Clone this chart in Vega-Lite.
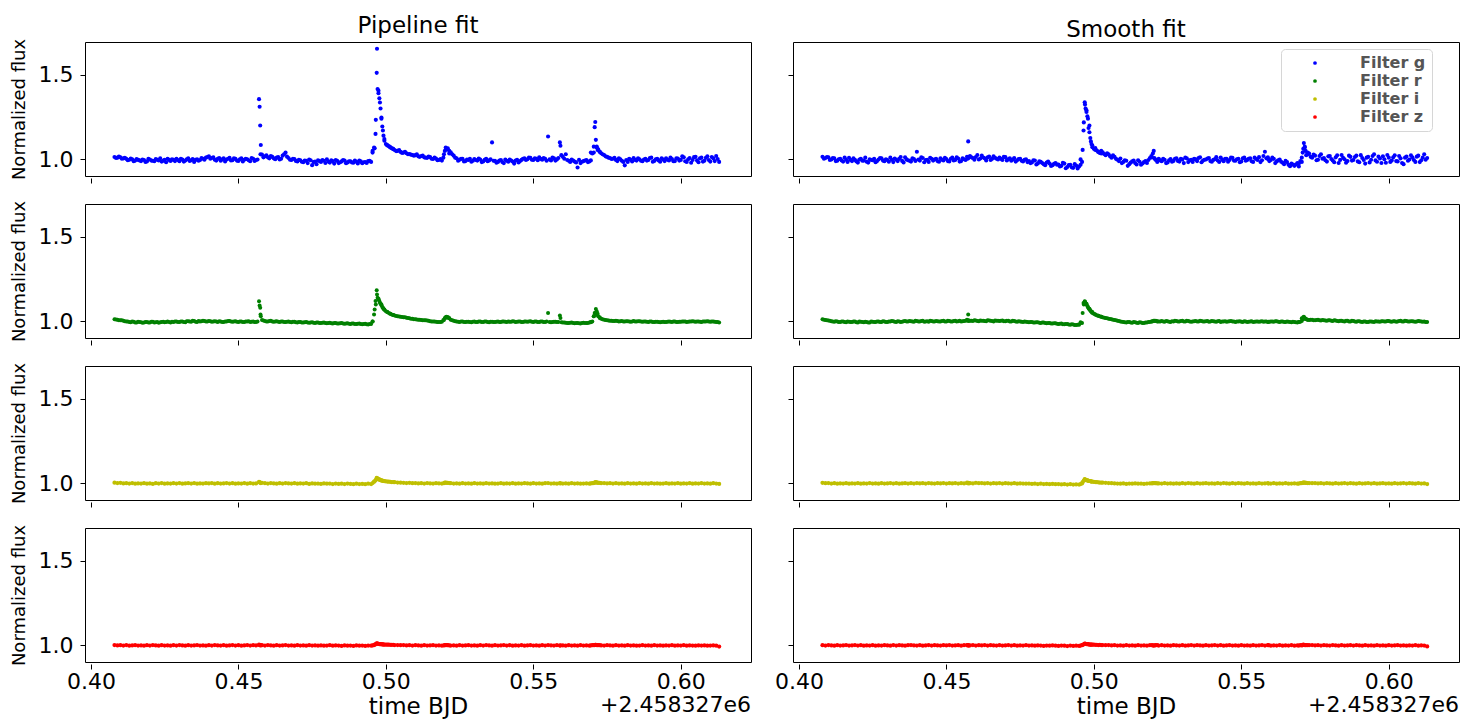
{
"$schema": "https://vega.github.io/schema/vega-lite/v6.json",
"padding": {"left": 9, "top": 14, "right": 3, "bottom": 2},
"config": {
  "view": {"stroke": "black", "strokeWidth": 1},
  "font": "DejaVu Sans",
  "axis": {"domain": false, "grid": false, "tickColor": "black", "tickSize": 5, "tickWidth": 1, "labelFont": "DejaVu Sans", "labelFontSize": 22, "labelColor": "black", "labelFlush": false, "titleFont": "DejaVu Sans", "titleFontWeight": "normal", "titleColor": "black"},
  "title": {"font": "DejaVu Sans", "fontSize": 23, "fontWeight": "normal", "color": "black"}
},
"datasets": {"lc": [
{"t":[0.408,0.409,0.410,0.411,0.412,0.413,0.414,0.415,0.416,0.417,0.418,0.419,0.420,0.421,0.422,0.423,0.424,0.425,0.426,0.427,0.428,0.429,0.430,0.431,0.432,0.433,0.434,0.435,0.436,0.437,0.438,0.439,0.440,0.441,0.442,0.443,0.444,0.445,0.446,0.447,0.448,0.449,0.450,0.451,0.452,0.453,0.454,0.455,0.456,0.457,0.458,0.459,0.460,0.461,0.462,0.463,0.464,0.465,0.466,0.467,0.468,0.469,0.470,0.471,0.472,0.473,0.474,0.475,0.476,0.477,0.478,0.479,0.480,0.481,0.482,0.483,0.484,0.485,0.486,0.487,0.488,0.489,0.490,0.491,0.492,0.493,0.494,0.495,0.496,0.497,0.498,0.499,0.500,0.501,0.502,0.503,0.504,0.505,0.506,0.507,0.508,0.509,0.510,0.511,0.512,0.513,0.514,0.515,0.516,0.517,0.518,0.519,0.520,0.521,0.522,0.523,0.524,0.525,0.526,0.527,0.528,0.529,0.530,0.531,0.532,0.533,0.534,0.535,0.536,0.537,0.538,0.539,0.540,0.541,0.542,0.543,0.544,0.545,0.546,0.547,0.548,0.549,0.550,0.551,0.552,0.553,0.554,0.555,0.556,0.557,0.558,0.559,0.560,0.561,0.562,0.563,0.564,0.565,0.566,0.567,0.568,0.569,0.570,0.571,0.572,0.573,0.574,0.575,0.576,0.577,0.578,0.579,0.580,0.581,0.582,0.583,0.584,0.585,0.586,0.587,0.588,0.589,0.590,0.591,0.592,0.593,0.594,0.595,0.596,0.597,0.598,0.599,0.600,0.601,0.602,0.603,0.604,0.605,0.606,0.607,0.608,0.609,0.610,0.611,0.612,0.613],
"gP":[1.014,1.010,1.012,1.006,1.003,0.998,1.001,0.993,0.997,0.990,0.996,0.988,0.999,0.992,1.002,0.994,0.987,0.998,1.004,0.991,0.997,1.003,0.989,0.999,0.993,1.006,0.995,0.985,1.001,0.996,1.004,1.010,1.018,1.008,0.998,1.003,0.992,1.006,0.999,1.009,0.995,1.003,0.991,1.007,0.998,1.001,0.989,1.004,0.996,1.355,1.028,1.018,1.012,1.020,1.006,1.010,0.999,1.022,1.040,1.008,0.996,1.002,0.988,0.995,0.983,0.992,0.999,0.966,0.987,0.994,0.985,0.992,1.001,0.981,0.990,0.996,0.978,0.988,0.993,0.982,0.989,0.980,0.986,0.993,0.977,0.984,0.990,0.985,1.070,1.652,1.335,1.170,1.090,1.078,1.066,1.055,1.050,1.044,1.040,1.036,1.032,1.026,1.025,1.018,1.020,1.012,1.009,1.013,1.002,1.005,0.996,0.993,1.050,1.065,1.042,1.022,1.006,0.998,1.004,0.990,0.997,0.986,1.002,0.993,0.999,0.988,1.003,0.994,1.100,0.991,0.985,0.996,0.978,0.992,0.999,0.987,0.993,0.982,0.997,1.006,1.001,1.009,0.996,1.004,1.012,0.998,1.003,1.135,0.994,1.006,1.000,1.100,1.015,1.030,0.992,0.999,0.987,0.952,0.978,0.990,0.996,0.988,1.035,1.220,1.060,1.036,1.026,1.015,1.008,1.004,0.997,1.006,0.992,0.965,0.985,0.998,1.008,0.993,1.001,0.989,1.004,0.996,1.010,0.991,1.003,0.986,0.999,1.007,0.994,1.002,0.990,1.005,0.997,1.012,0.985,1.008,0.996,1.015,0.983,1.010,0.992,1.018,0.987,1.006,1.020,0.985],
"gS":[1.015,1.008,1.012,0.999,1.006,0.992,1.003,0.987,0.998,1.009,0.990,0.997,0.981,1.004,0.993,0.986,1.001,0.995,0.983,0.999,1.006,0.989,0.996,1.010,0.984,0.998,1.003,0.991,1.012,0.995,0.987,1.002,1.045,0.993,1.008,0.996,0.985,1.004,0.999,0.990,1.007,0.994,1.002,0.988,1.011,0.997,1.005,0.990,1.001,1.015,1.020,1.008,1.014,0.999,1.022,1.006,1.012,0.996,1.018,1.004,1.010,0.997,1.013,1.001,0.992,1.008,0.995,1.004,0.988,1.000,0.990,0.982,0.993,0.976,0.985,0.972,0.981,0.975,0.966,0.979,0.970,0.962,0.975,0.955,0.968,0.950,0.963,0.958,0.985,1.323,1.240,1.106,1.062,1.052,1.038,1.041,1.024,1.030,1.010,1.015,0.998,1.005,0.985,0.992,0.972,0.988,0.978,0.995,0.968,0.984,0.979,1.008,1.035,0.996,1.004,0.989,0.998,0.982,1.002,0.991,1.006,0.987,0.999,1.010,0.984,0.997,1.004,0.990,1.012,0.993,0.999,1.008,0.986,1.001,0.994,1.011,0.989,1.003,0.996,1.009,0.992,1.004,0.988,1.010,0.997,1.006,0.985,1.002,1.013,0.995,1.045,1.012,0.996,1.003,0.988,0.999,0.980,0.991,0.968,0.975,0.962,0.978,0.990,1.062,1.025,1.035,1.010,1.022,0.998,1.030,1.008,0.987,1.020,0.994,1.012,0.979,1.026,1.001,0.990,1.015,0.996,1.022,0.983,1.008,0.975,1.015,0.998,1.030,0.986,1.005,1.018,0.980,1.010,0.993,1.024,0.988,1.006,0.972,1.016,0.999,1.012,0.985,1.022,0.995,1.030,1.008],
"rP":[1.013,1.009,1.006,1.004,1.000,0.997,0.999,0.994,0.998,0.995,0.993,0.997,0.994,0.998,0.995,0.992,0.997,0.995,0.999,0.994,0.997,1.000,0.996,0.999,0.995,1.001,0.998,1.002,0.997,1.000,1.003,0.999,1.002,0.998,1.001,0.997,1.000,0.996,0.999,1.002,0.998,1.001,0.997,0.999,0.996,1.000,0.997,0.999,0.996,1.119,1.008,1.002,0.999,1.003,0.998,1.001,0.997,1.000,0.996,0.999,0.995,0.998,0.994,0.997,0.993,0.996,0.992,0.995,0.991,0.994,0.990,0.993,0.989,0.992,0.988,0.991,0.987,0.990,0.986,0.989,0.985,0.988,0.984,0.987,0.983,0.986,0.982,0.985,1.040,1.158,1.110,1.080,1.060,1.050,1.040,1.035,1.030,1.028,1.025,1.022,1.018,1.015,1.012,1.010,1.008,1.006,1.005,1.001,1.000,0.998,0.996,0.998,1.020,1.026,1.010,1.003,0.999,0.997,1.000,0.996,0.998,0.995,0.999,0.996,1.000,0.997,0.999,0.995,0.998,0.996,0.999,0.996,1.000,0.997,0.998,1.001,0.997,0.999,0.996,1.000,0.998,1.001,0.997,0.999,0.996,1.000,0.997,1.050,0.995,0.998,0.996,1.034,0.994,0.992,0.990,0.993,0.989,0.991,0.988,0.992,0.990,0.993,1.000,1.050,1.030,1.015,1.010,1.006,1.004,1.002,1.003,1.000,1.002,0.999,1.001,0.998,1.002,0.999,1.001,0.998,1.000,0.997,0.999,0.996,0.998,0.995,0.998,0.996,0.999,0.997,0.999,0.996,0.998,1.000,0.997,0.999,1.001,0.998,1.000,0.997,0.999,1.001,0.998,1.000,0.997,0.994],
"rS":[1.012,1.008,1.005,1.001,0.998,1.000,0.996,0.999,0.995,0.998,0.996,0.999,0.994,0.998,0.995,0.997,0.993,0.998,0.996,0.999,0.997,1.000,0.996,0.999,1.001,0.997,1.000,0.998,1.002,0.999,1.001,0.998,1.002,0.999,1.003,1.000,0.998,1.002,0.999,1.001,1.000,1.003,0.999,1.002,1.000,1.004,1.001,0.999,1.002,1.010,1.004,1.002,1.005,1.001,1.004,1.002,1.006,1.003,1.000,1.004,1.002,1.005,1.001,1.003,0.999,1.002,0.998,1.000,0.996,0.998,0.995,0.997,0.993,0.995,0.991,0.993,0.989,0.991,0.987,0.989,0.985,0.987,0.983,0.984,0.980,0.982,0.978,0.980,0.990,1.115,1.085,1.060,1.045,1.036,1.030,1.025,1.020,1.016,1.012,1.008,1.004,1.000,0.997,0.994,0.996,0.992,0.995,0.991,0.994,0.990,0.993,0.997,1.001,1.004,0.999,1.002,0.998,1.001,0.997,1.000,1.002,0.999,1.003,1.000,1.002,0.998,1.001,0.999,1.003,1.000,1.001,0.998,1.002,0.999,1.001,0.997,1.000,0.998,1.001,0.999,0.997,1.000,0.998,1.001,0.997,0.999,0.996,1.000,0.998,1.001,0.999,0.997,1.000,0.998,1.001,0.997,0.999,0.996,0.998,0.995,0.997,0.994,0.998,1.025,1.012,1.008,1.010,1.006,1.009,1.005,1.007,1.004,1.006,1.002,1.005,1.001,1.004,1.000,1.003,0.999,1.002,0.998,1.001,0.997,1.000,0.996,0.999,0.997,1.000,0.998,1.001,0.999,1.002,0.998,1.001,0.999,1.003,1.000,1.002,0.999,1.001,0.998,1.002,0.999,1.000,0.997],
"iP":[1.004,1.002,1.003,1.000,1.001,0.999,1.002,0.998,1.000,0.999,1.001,0.998,1.000,0.997,1.001,0.999,1.002,0.998,1.000,0.999,1.001,0.999,1.002,0.998,1.000,1.001,0.999,1.002,0.998,1.000,0.999,1.001,1.000,1.002,0.998,1.001,0.999,1.000,1.002,0.999,1.001,0.998,1.000,0.999,1.002,0.998,1.001,0.999,1.000,1.009,1.003,1.001,0.999,1.002,1.000,0.998,1.001,0.999,1.002,1.000,0.999,1.001,0.998,1.000,0.999,1.001,0.997,1.000,0.998,0.999,0.997,1.000,0.998,0.999,0.996,0.999,0.997,0.998,0.996,0.999,0.997,0.995,0.998,0.996,0.997,0.995,0.998,0.996,1.010,1.030,1.020,1.015,1.012,1.010,1.008,1.007,1.005,1.004,1.003,1.002,1.003,1.001,1.002,1.000,1.001,0.999,1.002,1.000,0.999,1.001,1.000,0.999,1.004,1.003,1.001,0.999,1.000,0.998,1.001,0.999,1.000,0.998,1.001,0.999,1.000,0.998,1.001,0.999,1.000,0.998,0.999,1.001,0.998,1.000,0.999,1.001,0.998,1.000,0.999,1.001,1.000,0.998,1.001,0.999,1.000,0.998,1.001,1.002,0.999,1.000,0.998,1.001,0.999,1.000,0.998,1.001,0.999,1.000,0.998,0.999,1.000,0.998,1.001,1.006,1.003,1.001,1.002,1.000,1.001,0.999,1.001,0.999,1.000,0.998,1.001,0.999,1.000,0.998,1.001,0.999,1.000,0.998,1.001,0.999,1.000,0.998,0.999,1.001,0.998,1.000,0.999,1.001,0.998,1.000,0.999,1.001,0.998,1.000,0.999,1.001,0.999,1.000,0.998,1.001,0.999,0.997],
"iS":[1.003,1.001,1.002,0.999,1.001,0.998,1.000,0.999,1.001,0.998,1.000,0.999,1.001,0.998,1.000,0.999,1.002,0.999,1.000,0.998,1.001,0.999,1.000,1.002,0.999,1.001,0.998,1.000,1.001,0.999,1.001,0.999,1.002,1.000,1.001,0.999,1.002,1.000,0.999,1.001,1.000,1.002,0.999,1.001,1.000,1.002,0.999,1.001,1.000,1.004,1.002,1.000,1.003,1.001,1.002,1.000,1.002,0.999,1.001,1.000,1.002,0.999,1.001,1.000,0.999,1.001,0.998,1.000,0.999,0.998,0.999,0.997,0.998,0.996,0.998,0.996,0.997,0.995,0.997,0.995,0.996,0.994,0.995,0.993,0.995,0.993,0.994,0.993,1.000,1.022,1.016,1.012,1.009,1.007,1.005,1.004,1.003,1.002,1.001,1.000,0.999,0.998,1.000,0.997,0.999,0.998,1.000,0.998,0.999,0.997,0.999,1.000,1.002,1.001,1.000,0.999,1.001,0.999,1.000,0.998,1.000,0.998,1.001,0.999,1.002,1.000,0.998,1.001,0.999,1.000,1.001,0.999,1.000,0.998,1.001,0.999,1.002,1.000,0.998,1.001,0.999,1.001,1.000,0.998,1.001,0.999,1.000,0.998,1.001,0.999,1.000,1.002,0.999,1.001,0.998,1.000,0.999,1.001,0.998,0.999,1.000,0.998,1.001,1.004,1.003,1.002,1.001,1.002,1.000,1.001,0.999,1.001,1.000,0.998,1.001,0.999,1.000,1.002,0.999,1.001,1.000,0.998,1.001,0.999,1.000,1.002,0.999,1.001,0.998,1.000,1.001,0.999,1.000,0.998,1.001,0.999,1.000,1.002,0.999,1.001,1.000,0.998,1.001,0.999,1.000,0.996],
"zP":[1.002,1.000,1.001,0.999,1.002,0.998,1.000,1.001,0.999,1.000,0.998,1.001,0.999,1.002,1.000,0.998,1.001,0.999,1.000,0.998,1.001,0.999,1.002,1.000,0.998,1.001,0.999,1.000,1.002,0.999,1.000,0.998,1.001,0.999,1.002,1.000,0.999,1.001,0.998,1.000,1.002,0.999,1.001,0.998,1.000,1.002,0.999,1.001,1.000,1.004,1.001,0.999,1.002,1.000,0.998,1.001,0.999,1.000,1.002,0.999,1.000,0.998,1.001,0.999,1.000,0.998,1.001,0.999,1.000,0.998,1.000,0.998,0.999,1.001,0.998,1.000,0.999,0.997,1.000,0.998,0.999,0.997,1.000,0.998,0.999,0.997,0.999,0.998,1.002,1.011,1.008,1.006,1.004,1.004,1.003,1.002,1.002,1.001,1.002,1.000,1.001,0.999,1.001,1.000,0.998,1.001,0.999,1.000,1.001,0.999,1.000,0.998,1.002,1.001,0.999,1.000,0.998,1.001,0.999,1.000,1.001,0.999,1.000,0.998,1.001,0.999,1.002,1.000,0.998,1.001,0.999,1.000,1.002,0.999,1.001,0.998,1.000,0.999,1.001,0.998,1.000,1.001,0.999,1.000,0.998,1.001,0.999,1.002,1.000,0.999,1.001,0.999,1.000,0.998,1.001,0.999,1.000,0.998,1.001,0.999,1.000,0.998,1.001,1.003,1.001,1.000,0.999,1.001,1.000,0.998,1.001,0.999,1.000,0.998,1.001,0.999,1.000,0.998,0.999,1.001,0.999,1.000,0.998,1.001,0.999,1.000,0.998,1.000,0.999,1.001,0.998,1.000,0.999,1.001,0.998,1.000,0.999,0.998,1.000,0.999,1.000,0.998,0.999,1.000,0.998,0.993],
"zS":[1.001,0.999,1.002,1.000,0.998,1.001,0.999,1.000,1.002,0.999,1.000,1.002,0.999,1.001,0.998,1.000,0.999,1.001,0.998,1.000,0.999,1.001,1.000,0.998,1.002,0.999,1.001,1.000,0.998,1.001,1.002,1.000,0.999,1.001,0.998,1.000,1.002,0.999,1.001,1.000,0.999,1.001,1.000,1.002,0.999,1.000,1.001,0.998,1.001,1.002,1.000,1.002,0.999,1.001,1.000,1.002,0.999,1.001,1.000,0.999,1.001,0.999,1.000,1.002,0.999,1.001,0.998,1.000,0.999,1.001,0.999,1.000,0.998,1.000,0.999,0.997,0.999,0.998,1.000,0.998,0.997,0.999,0.998,0.996,0.999,0.997,0.998,0.997,1.001,1.009,1.007,1.005,1.004,1.003,1.003,1.002,1.001,1.002,1.000,1.001,0.999,1.000,0.998,1.001,0.999,1.000,0.998,1.001,0.999,1.000,0.998,1.001,1.000,1.001,0.999,1.001,0.999,1.000,0.998,1.001,1.000,0.999,1.001,0.998,1.000,1.002,0.999,1.001,1.000,0.998,1.001,0.999,1.000,1.002,0.999,1.001,0.998,1.000,1.001,0.999,1.000,0.998,1.001,0.999,1.000,0.998,1.001,0.999,1.000,1.002,0.999,1.001,0.998,1.000,0.999,1.001,0.998,1.000,0.999,1.001,0.998,1.000,1.001,1.004,1.002,1.001,1.002,1.000,1.001,0.999,1.001,1.000,0.999,1.002,1.000,0.998,1.001,0.999,1.000,1.001,0.999,1.001,1.000,0.998,1.001,0.999,1.000,0.998,1.001,0.999,1.000,0.998,1.001,0.999,1.000,1.001,0.999,1.000,0.998,1.000,0.999,1.001,0.998,1.000,0.999,0.994]},
{"t":[0.4085,0.4095,0.4105,0.4115,0.4125,0.4135,0.4145,0.4155,0.4165,0.4175,0.4185,0.4195,0.4205,0.4215,0.4225,0.4235,0.4245,0.4255,0.4265,0.4275,0.4285,0.4295,0.4305,0.4315,0.4325,0.4335,0.4345,0.4355,0.4365,0.4375,0.4385,0.4395,0.4405,0.4415,0.4425,0.4435,0.4445,0.4455,0.4465,0.4475,0.4485,0.4495,0.4505,0.4515,0.4525,0.4535,0.4545,0.4555,0.4565,0.4575,0.4585,0.4595,0.4605,0.4615,0.4625,0.4635,0.4645,0.4655,0.4665,0.4675,0.4685,0.4695,0.4705,0.4715,0.4725,0.4735,0.4745,0.4755,0.4765,0.4775,0.4785,0.4795,0.4805,0.4815,0.4825,0.4835,0.4845,0.4855,0.4865,0.4875,0.4885,0.4895,0.4905,0.4915,0.4925,0.4935,0.4945,0.4955,0.4965,0.4975,0.4985,0.4995,0.5005,0.5015,0.5025,0.5035,0.5045,0.5055,0.5065,0.5075,0.5085,0.5095,0.5105,0.5115,0.5125,0.5135,0.5145,0.5155,0.5165,0.5175,0.5185,0.5195,0.5205,0.5215,0.5225,0.5235,0.5245,0.5255,0.5265,0.5275,0.5285,0.5295,0.5305,0.5315,0.5325,0.5335,0.5345,0.5355,0.5365,0.5375,0.5385,0.5395,0.5405,0.5415,0.5425,0.5435,0.5445,0.5455,0.5465,0.5475,0.5485,0.5495,0.5505,0.5515,0.5525,0.5535,0.5545,0.5555,0.5565,0.5575,0.5585,0.5595,0.5605,0.5615,0.5625,0.5635,0.5645,0.5655,0.5665,0.5675,0.5685,0.5695,0.5705,0.5715,0.5725,0.5735,0.5745,0.5755,0.5765,0.5775,0.5785,0.5795,0.5805,0.5815,0.5825,0.5835,0.5845,0.5855,0.5865,0.5875,0.5885,0.5895,0.5905,0.5915,0.5925,0.5935,0.5945,0.5955,0.5965,0.5975,0.5985,0.5995,0.6005,0.6015,0.6025,0.6035,0.6045,0.6055,0.6065,0.6075,0.6085,0.6095,0.6105,0.6115,0.6125],
"gP":[1.008,1.016,1.004,1.009,0.995,1.005,0.989,1.002,0.994,0.999,0.985,1.003,0.993,0.989,0.998,1.006,0.992,0.983,0.997,1.001,0.990,0.996,1.004,0.987,1.000,0.991,1.002,0.997,0.992,1.008,0.998,1.014,1.004,1.012,0.993,1.008,1.000,0.988,1.004,0.994,1.006,0.993,1.001,0.988,1.004,0.995,1.008,0.991,0.999,1.030,1.012,1.024,1.006,1.015,1.001,1.013,1.004,1.030,1.016,0.998,1.004,0.991,0.998,0.986,0.993,0.978,0.995,0.984,0.972,0.990,0.996,0.979,0.987,0.994,0.975,0.991,0.983,0.996,0.977,0.988,0.982,0.993,0.976,0.988,0.983,0.979,0.992,1.050,1.150,1.390,1.240,1.120,1.082,1.070,1.062,1.049,1.055,1.038,1.045,1.030,1.028,1.022,1.030,1.015,1.022,1.010,1.016,1.004,1.010,0.995,1.002,1.010,1.060,1.035,1.030,1.010,0.992,1.003,0.988,0.999,1.004,0.992,0.996,1.005,0.984,0.997,0.989,1.001,0.992,0.980,0.993,0.984,0.999,0.986,0.993,0.975,0.998,0.990,1.004,0.996,1.010,0.998,1.006,0.995,1.003,1.008,0.992,1.000,1.010,0.993,1.008,1.025,1.004,0.996,0.985,0.993,0.982,0.997,0.986,0.993,0.984,0.994,1.040,1.070,1.045,1.030,1.018,1.010,1.002,1.009,0.990,1.001,0.985,0.996,1.004,0.988,0.997,1.006,0.992,0.999,0.993,1.008,0.986,1.000,0.994,1.006,0.990,0.998,1.011,0.989,1.007,0.993,1.018,0.989,1.001,0.980,1.013,0.994,1.006,0.987,1.009,0.996,1.014,0.990,1.002],
"gS":[1.004,1.013,0.996,1.008,0.990,1.001,0.994,1.011,0.985,0.997,1.006,0.988,0.999,0.992,1.010,0.981,0.996,1.003,0.990,1.008,0.993,1.001,0.986,0.998,1.005,0.990,1.014,0.982,1.000,0.992,1.006,0.991,0.999,1.012,0.983,0.998,1.009,0.993,1.004,0.986,0.998,1.009,0.990,1.004,0.994,1.012,0.987,1.006,0.996,1.008,1.012,0.998,1.026,1.005,1.011,0.994,1.016,1.003,1.009,0.999,1.003,1.015,0.994,1.006,0.999,0.987,1.002,0.992,0.998,0.984,0.978,0.995,0.970,0.988,0.979,0.966,0.987,0.961,0.974,0.969,0.958,0.980,0.948,0.966,0.953,0.972,0.946,1.000,1.170,1.290,1.200,1.082,1.066,1.045,1.050,1.032,1.036,1.018,1.024,1.003,0.990,0.978,0.995,0.962,0.981,0.993,0.970,0.986,0.976,0.990,0.996,1.020,1.008,0.985,0.994,1.003,0.978,0.995,0.986,1.004,0.991,1.003,0.978,1.006,0.994,0.985,1.000,1.008,0.983,0.998,1.005,0.990,0.997,1.013,0.985,0.998,1.004,0.986,1.010,0.993,1.001,0.983,1.007,0.992,1.003,0.989,1.010,0.996,0.984,1.020,1.006,0.990,1.010,0.978,0.995,0.986,0.972,0.984,0.960,0.970,0.970,0.958,1.010,1.075,1.040,1.015,1.028,0.995,1.020,1.004,0.995,1.018,1.002,0.983,1.024,0.997,1.009,0.980,1.022,0.993,1.014,0.988,1.025,0.996,1.010,0.982,1.020,0.994,1.016,0.979,1.001,1.026,0.985,1.012,0.990,1.020,0.979,1.010,0.992,1.024,0.996,1.016,0.984,1.010,0.998],
"rP":[1.011,1.006,1.007,1.001,0.999,0.995,0.998,0.993,0.997,0.992,0.996,0.994,0.998,0.993,0.997,0.995,0.998,0.996,0.997,0.998,1.000,0.997,0.999,0.996,1.001,0.999,1.003,0.998,1.002,1.001,1.002,0.999,1.001,0.999,0.999,1.001,0.997,0.999,1.002,0.999,1.000,0.998,0.999,0.997,0.999,1.001,0.998,0.996,0.999,1.040,1.005,0.999,1.002,1.000,1.000,0.998,0.999,0.997,0.998,0.996,0.998,0.995,0.997,0.994,0.995,0.993,0.994,0.992,0.993,0.991,0.992,0.990,0.991,0.989,0.990,0.988,0.989,0.987,0.988,0.986,0.987,0.985,0.986,0.984,0.985,0.983,0.984,1.000,1.120,1.134,1.100,1.070,1.055,1.045,1.038,1.032,1.029,1.026,1.024,1.020,1.016,1.013,1.011,1.009,1.007,1.006,1.003,1.000,0.999,0.997,0.997,1.008,1.028,1.018,1.006,1.001,0.998,0.999,0.997,0.998,0.996,0.998,0.997,0.999,0.997,0.999,0.996,0.998,0.997,0.998,0.997,0.999,0.998,1.000,0.998,1.000,0.998,0.999,0.997,1.000,1.000,0.998,0.999,0.997,0.999,0.997,0.999,0.997,0.996,0.998,0.997,0.995,0.993,0.991,0.992,0.990,0.991,0.989,0.990,0.991,0.991,0.996,1.030,1.040,1.020,1.012,1.008,1.005,1.003,1.002,1.002,1.001,1.000,1.001,0.999,1.000,1.000,1.001,0.999,1.000,0.998,0.999,0.997,0.998,0.996,0.997,0.997,0.998,0.998,0.999,0.997,0.998,0.999,0.999,0.998,1.000,0.999,1.000,0.998,0.999,1.000,0.999,0.999,0.998,0.996],
"rS":[1.010,1.006,1.003,0.999,1.001,0.997,1.000,0.996,0.999,0.997,1.000,0.995,0.999,0.996,0.998,0.994,0.999,0.997,1.000,0.996,1.001,0.997,1.000,1.002,0.998,1.001,0.997,1.001,0.999,1.002,0.999,1.003,1.000,1.002,0.998,1.001,1.003,1.000,1.002,0.999,1.002,1.000,1.003,0.999,1.002,1.000,1.003,1.001,1.004,1.006,1.003,1.006,1.002,1.005,1.003,1.001,1.005,1.002,1.005,1.003,1.004,1.001,1.004,1.000,1.003,0.999,1.001,0.998,0.999,0.996,0.996,0.993,0.995,0.992,0.993,0.990,0.991,0.988,0.989,0.986,0.986,0.983,0.985,0.981,0.983,0.979,0.980,0.995,1.108,1.104,1.075,1.055,1.040,1.033,1.027,1.022,1.018,1.014,1.010,1.006,1.002,0.998,0.995,0.997,0.993,0.996,0.992,0.995,0.991,0.994,0.996,1.000,1.003,1.001,1.000,0.999,1.002,0.998,1.001,1.003,1.000,1.002,0.999,1.003,1.000,0.999,1.002,1.000,1.002,0.999,1.002,1.000,1.001,0.998,1.002,0.999,1.001,0.999,1.002,1.000,0.999,1.001,0.997,1.000,0.998,1.001,0.998,0.999,1.000,0.998,1.000,0.998,0.999,1.001,0.998,1.000,0.997,0.999,0.996,0.998,0.995,0.997,1.018,1.015,1.010,1.009,1.007,1.008,1.006,1.008,1.005,1.007,1.003,1.006,1.002,1.004,1.001,1.004,1.000,1.003,0.999,1.001,0.998,1.000,0.997,1.000,0.998,1.001,0.999,1.001,1.000,1.002,0.999,1.001,0.998,1.002,1.000,1.003,1.000,1.001,1.000,0.999,1.001,0.998,0.997],
"iP":[],"iS":[],"zP":[],"zS":[]},
{"t":[0.4572,0.4574,0.4576],"gP":[1.310,1.200,1.085],"gS":[1.004,1.106,1.012],"rP":[1.093,1.080,1.030],"rS":[1.003,1.040,1.002],"iP":[1.006,1.004,1.002],"iS":[1.001,1.003,1.000],"zP":[1.002,1.001,1.000],"zS":[1.000,1.002,0.999]},
{"t":[0.4955,0.4962,0.4966,0.4969,0.4972,0.4975,0.4978,0.4982,0.4985,0.4988,0.4992,0.4995,0.5005,0.5015,0.5025],
"gP":[1.040,1.065,1.233,1.510,1.415,1.405,1.360,1.300,1.247,1.194,1.140,1.110,1.085,1.072,1.060],
"gS":[0.968,1.056,1.218,1.337,1.300,1.280,1.254,1.185,1.160,1.126,1.090,1.072,1.055,1.044,1.035],
"rP":[1.000,1.070,1.100,1.184,1.139,1.129,1.120,1.105,1.095,1.085,1.075,1.068,1.055,1.045,1.037],
"rS":[0.990,1.050,1.100,1.119,1.107,1.100,1.090,1.078,1.070,1.065,1.055,1.050,1.040,1.033,1.028],
"iP":[1.002,1.012,1.020,1.033,1.028,1.025,1.023,1.019,1.017,1.016,1.014,1.013,1.011,1.009,1.008],
"iS":[0.996,1.008,1.016,1.025,1.021,1.019,1.018,1.015,1.014,1.013,1.011,1.010,1.008,1.006,1.005],
"zP":[1.000,1.004,1.007,1.012,1.010,1.009,1.008,1.007,1.006,1.006,1.005,1.005,1.004,1.003,1.003],
"zS":[0.999,1.003,1.006,1.010,1.009,1.008,1.007,1.006,1.005,1.005,1.004,1.004,1.003,1.002,1.002]},
{"t":[0.5197,0.5203,0.5207,0.5215],"gP":[1.030,1.070,1.058,1.050],"gS":[1.012,1.050,1.002,0.995],"rP":[1.008,1.024,1.022,1.018],"rS":[0.999,1.003,1.002,1.000],"iP":[1.001,1.004,1.003,1.002],"iS":[1.000,1.002,1.001,1.000],"zP":[1.000,1.002,1.001,1.000],"zS":[1.001,0.999,1.000,1.001]},
{"t":[0.5592],"gP":[1.080],"gS":[1.000],"rP":[1.020],"rS":[0.998],"iP":[1.000],"iS":[0.999],"zP":[1.000],"zS":[1.001]},
{"t":[0.5695,0.5705,0.5708,0.5712,0.5715,0.5718,0.5725],
"gP":[1.040,1.075,1.190,1.115,1.075,1.055,1.045],
"gS":[0.975,0.985,1.040,1.096,1.070,1.050,1.030],
"rP":[0.995,1.030,1.050,1.073,1.060,1.045,1.025],
"rS":[0.996,1.002,1.012,1.028,1.020,1.015,1.010],
"iP":[1.000,1.002,1.004,1.007,1.005,1.004,1.003],
"iS":[0.999,1.001,1.003,1.005,1.004,1.003,1.002],
"zP":[1.000,1.001,1.002,1.003,1.002,1.002,1.001],
"zS":[0.999,1.000,1.002,1.003,1.002,1.001,1.001]}
]},
"data": {"name": "lc"},
"transform": [{"flatten": ["t","gP","gS","rP","rS","iP","iS","zP","zS"]}],
"columns": 2,
"spacing": {"row": 15, "column": 21},
"resolve": {"scale": {"color": "independent"}, "legend": {"color": "independent"}},
"concat": [
{"width": 666, "height": 134, "title": {"text": "Pipeline fit", "anchor": "middle", "offset": 0},
 "mark": {"type": "circle", "size": 17, "opacity": 1, "color": "#0000ff"},
 "encoding": {
  "x": {"field": "t", "type": "quantitative", "scale": {"domain": [0.398, 0.6238], "nice": false, "zero": false}, "axis": {"values": [0.40,0.45,0.50,0.55,0.60], "labels": false, "title": null, "offset": 2}},
  "y": {"field": "gP", "type": "quantitative", "scale": {"domain": [0.902, 1.692], "nice": false, "zero": false}, "axis": {"values": [1.0,1.5], "format": ".1f", "labelPadding": 7, "title": "Normalized flux", "titleFontSize": 18, "titlePadding": 10}}}},
{"width": 666, "height": 134, "title": {"text": "Smooth fit", "anchor": "middle", "offset": 0},
 "mark": {"type": "circle", "size": 17, "opacity": 1},
 "encoding": {
  "x": {"field": "t", "type": "quantitative", "scale": {"domain": [0.398, 0.6238], "nice": false, "zero": false}, "axis": {"values": [0.40,0.45,0.50,0.55,0.60], "labels": false, "title": null, "offset": 2}},
  "y": {"field": "gS", "type": "quantitative", "scale": {"domain": [0.902, 1.692], "nice": false, "zero": false}, "axis": {"values": [1.0,1.5], "labels": false, "title": null}},
  "color": {"datum": "Filter g", "type": "nominal", "scale": {"domain": ["Filter g","Filter r","Filter i","Filter z"], "range": ["#0000ff","#008000","#bfbf00","#ff0000"]},
   "legend": {"title": null, "orient": "none", "legendX": 488, "legendY": 7, "symbolType": "circle", "symbolSize": 14, "symbolOpacity": 1, "symbolOffset": 20, "labelFont": "DejaVu Sans", "labelFontSize": 16, "labelFontWeight": "bold", "labelColor": "#555555", "labelOffset": 37, "padding": 6, "rowPadding": 2, "fillColor": "rgba(255,255,255,0.85)", "strokeColor": "#d6d6d6", "cornerRadius": 4}}}},
{"width": 666, "height": 134,
 "mark": {"type": "circle", "size": 16, "opacity": 1, "color": "#008000"},
 "encoding": {
  "x": {"field": "t", "type": "quantitative", "scale": {"domain": [0.398, 0.6238], "nice": false, "zero": false}, "axis": {"values": [0.40,0.45,0.50,0.55,0.60], "labels": false, "title": null, "offset": 2}},
  "y": {"field": "rP", "type": "quantitative", "scale": {"domain": [0.902, 1.692], "nice": false, "zero": false}, "axis": {"values": [1.0,1.5], "format": ".1f", "labelPadding": 7, "title": "Normalized flux", "titleFontSize": 18, "titlePadding": 10}}}},
{"width": 666, "height": 134,
 "mark": {"type": "circle", "size": 16, "opacity": 1, "color": "#008000"},
 "encoding": {
  "x": {"field": "t", "type": "quantitative", "scale": {"domain": [0.398, 0.6238], "nice": false, "zero": false}, "axis": {"values": [0.40,0.45,0.50,0.55,0.60], "labels": false, "title": null, "offset": 2}},
  "y": {"field": "rS", "type": "quantitative", "scale": {"domain": [0.902, 1.692], "nice": false, "zero": false}, "axis": {"values": [1.0,1.5], "labels": false, "title": null}}}},
{"width": 666, "height": 134,
 "mark": {"type": "circle", "size": 18, "opacity": 1, "color": "#bfbf00"},
 "encoding": {
  "x": {"field": "t", "type": "quantitative", "scale": {"domain": [0.398, 0.6238], "nice": false, "zero": false}, "axis": {"values": [0.40,0.45,0.50,0.55,0.60], "labels": false, "title": null, "offset": 2}},
  "y": {"field": "iP", "type": "quantitative", "scale": {"domain": [0.902, 1.692], "nice": false, "zero": false}, "axis": {"values": [1.0,1.5], "format": ".1f", "labelPadding": 7, "title": "Normalized flux", "titleFontSize": 18, "titlePadding": 10}}}},
{"width": 666, "height": 134,
 "mark": {"type": "circle", "size": 18, "opacity": 1, "color": "#bfbf00"},
 "encoding": {
  "x": {"field": "t", "type": "quantitative", "scale": {"domain": [0.398, 0.6238], "nice": false, "zero": false}, "axis": {"values": [0.40,0.45,0.50,0.55,0.60], "labels": false, "title": null, "offset": 2}},
  "y": {"field": "iS", "type": "quantitative", "scale": {"domain": [0.902, 1.692], "nice": false, "zero": false}, "axis": {"values": [1.0,1.5], "labels": false, "title": null}}}},
{"width": 666, "height": 134, "title": {"text": "+2.458327e6", "orient": "bottom", "anchor": "end", "fontSize": 22, "offset": -23},
 "mark": {"type": "circle", "size": 18, "opacity": 1, "color": "#ff0000"},
 "encoding": {
  "x": {"field": "t", "type": "quantitative", "scale": {"domain": [0.398, 0.6238], "nice": false, "zero": false}, "axis": {"values": [0.40,0.45,0.50,0.55,0.60], "format": ".2f", "labelPadding": 2, "title": "time BJD", "titleFontSize": 23, "titlePadding": 3, "offset": 2}},
  "y": {"field": "zP", "type": "quantitative", "scale": {"domain": [0.902, 1.692], "nice": false, "zero": false}, "axis": {"values": [1.0,1.5], "format": ".1f", "labelPadding": 7, "title": "Normalized flux", "titleFontSize": 18, "titlePadding": 10}}}},
{"width": 666, "height": 134, "title": {"text": "+2.458327e6", "orient": "bottom", "anchor": "end", "fontSize": 22, "offset": -23},
 "mark": {"type": "circle", "size": 18, "opacity": 1, "color": "#ff0000"},
 "encoding": {
  "x": {"field": "t", "type": "quantitative", "scale": {"domain": [0.398, 0.6238], "nice": false, "zero": false}, "axis": {"values": [0.40,0.45,0.50,0.55,0.60], "format": ".2f", "labelPadding": 2, "title": "time BJD", "titleFontSize": 23, "titlePadding": 3, "offset": 2}},
  "y": {"field": "zS", "type": "quantitative", "scale": {"domain": [0.902, 1.692], "nice": false, "zero": false}, "axis": {"values": [1.0,1.5], "labels": false, "title": null}}}}
]
}
